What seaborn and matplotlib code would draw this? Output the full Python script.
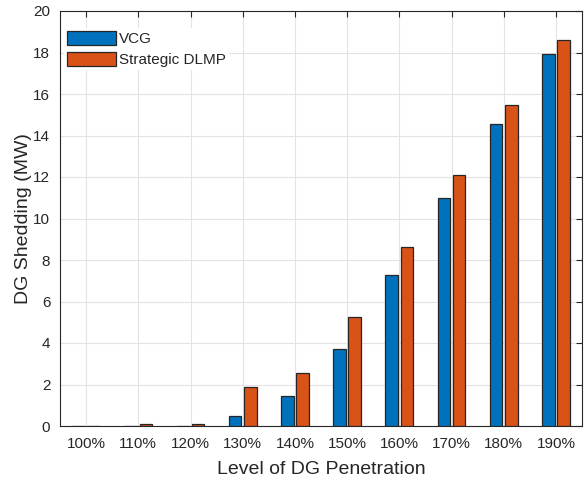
import matplotlib
matplotlib.use('Agg')
import matplotlib.pyplot as plt
import pandas as pd
import seaborn as sns

levels = ['100%', '110%', '120%', '130%', '140%', '150%', '160%', '170%', '180%', '190%']
vcg = [0.0, 0.0, 0.0, 0.5, 1.45, 3.7, 7.3, 11.0, 14.55, 17.95]
dlmp = [0.02, 0.1, 0.1, 1.9, 2.55, 5.27, 8.65, 12.1, 15.45, 18.6]
series = ['VCG', 'Strategic DLMP']
colors = ['#0072BD', '#D95319']


def main():
    df = pd.DataFrame({
        'level': levels * 2,
        'value': vcg + dlmp,
        'scheme': [series[0]] * len(levels) + [series[1]] * len(levels),
    })

    sns.set_style('whitegrid')
    plt.rcParams['font.family'] = ['Liberation Sans', 'DejaVu Sans']

    fig = plt.figure(figsize=(5.85, 4.79), dpi=100)
    ax = fig.add_axes([60 / 585, 53 / 479, 522 / 585, 415 / 479])

    sns.barplot(data=df, x='level', y='value', hue='scheme', hue_order=series,
                palette=colors, width=0.58, gap=0.17, edgecolor='#262626',
                linewidth=0.9, saturation=1, ax=ax, zorder=3)

    ax.set_xlim(-0.5, 9.5)
    ax.set_ylim(0, 20)
    ax.set_yticks(range(0, 21, 2))
    ax.set_xlabel('Level of DG Penetration', fontsize=14, color='#262626', labelpad=7)
    ax.set_ylabel('DG Shedding (MW)', fontsize=14, color='#262626', labelpad=1)
    ax.tick_params(axis='both', which='both', direction='in', top=True, right=True,
                   labelsize=11, colors='#262626', length=4, width=0.8)
    ax.tick_params(axis='x', pad=8)
    ax.tick_params(axis='y', pad=7)
    ax.grid(True, color='#e3e3e3', linewidth=0.8)
    ax.set_axisbelow(True)
    for spine in ax.spines.values():
        spine.set_visible(True)
        spine.set_color('#262626')
        spine.set_linewidth(0.8)

    leg = ax.legend(loc='upper left', bbox_to_anchor=(4 / 522, 1 - 17 / 415),
                    fontsize=11, frameon=True, facecolor='white',
                    edgecolor='white', framealpha=1, fancybox=False,
                    handlelength=3.2, handleheight=1.0, handletextpad=0.2,
                    labelspacing=0.4, borderaxespad=0, borderpad=0.2)
    leg.get_frame().set_linewidth(0)

    fig.savefig('out.png', dpi=100)


if __name__ == '__main__':
    main()
